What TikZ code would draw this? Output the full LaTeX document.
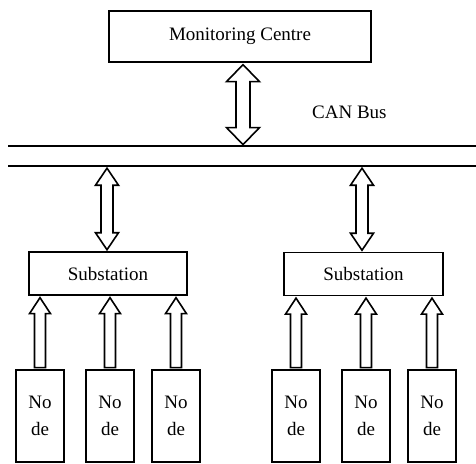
\documentclass[tikz,border=0pt]{standalone}
\usepackage{fontspec}
\setmainfont{Liberation Serif}
\usetikzlibrary{calc}

% hollow double-headed arrow: #1 top tip, #2 bottom tip,
% #3 shaft half width, #4 head half width, #5 head length
\newcommand\hollowdbl[5]{%
  \draw[arr] (#1) -- ($(#1)+(#4,#5)$) -- ($(#1)+(#3,#5)$)
    -- ($(#2)+(#3,-#5)$) -- ($(#2)+(#4,-#5)$) -- (#2)
    -- ($(#2)+(-#4,-#5)$) -- ($(#2)+(-#3,-#5)$)
    -- ($(#1)+(-#3,#5)$) -- ($(#1)+(-#4,#5)$) -- cycle;}

% hollow single arrow pointing up: #1 tip, #2 middle of the flat base
\newcommand\hollowup[5]{%
  \draw[arr] (#1) -- ($(#1)+(#4,#5)$) -- ($(#1)+(#3,#5)$)
    -- ($(#2)+(#3,0)$) -- ($(#2)+(-#3,0)$)
    -- ($(#1)+(-#3,#5)$) -- ($(#1)+(-#4,#5)$) -- cycle;}

\begin{document}
\begin{tikzpicture}[x=1pt,y=-1pt,
  box/.style={draw,line width=1.7pt,inner sep=0pt,align=center,
    font=\fontsize{19}{27}\selectfont},
  leaf/.style={box,minimum width=48pt,minimum height=92pt},
  sub/.style={box,minimum width=158pt,minimum height=43pt},
  arr/.style={draw,line width=1.6pt,fill=white,line join=miter},
  busline/.style={line width=2pt},
  lbl/.style={font=\fontsize{19}{27}\selectfont,inner sep=0pt}]
\useasboundingbox (0,0) rectangle (476,463);

% monitoring centre
\node[box,minimum width=262pt,minimum height=51pt] (mc) at (240,36.5) {Monitoring Centre};

% CAN bus: two parallel lines
\coordinate (busUpL) at (8,146);
\coordinate (busUpR) at (477,146);
\coordinate (busLoL) at (8,166);
\coordinate (busLoR) at (477,166);
\draw[busline] (busUpL) -- (busUpR);
\draw[busline] (busLoL) -- (busLoR);
\node[lbl,anchor=base west] (canlbl) at (312,118) {CAN Bus};

% substations
\node[sub] (subL) at (108,273.5) {Substation};
\node[sub,minimum width=159pt] (subR) at (363.5,274) {Substation};

% field nodes
\node[leaf] (nL1) at (40,416) {No\\de};
\node[leaf] (nL2) at (110,416) {No\\de};
\node[leaf] (nL3) at (176,416) {No\\de};
\node[leaf] (nR1) at (296,416) {No\\de};
\node[leaf] (nR2) at (366,416) {No\\de};
\node[leaf] (nR3) at (432,416) {No\\de};

% centre <-> bus
\coordinate (mcTip) at ($(mc.south)+(3,1.8)$);
\coordinate (mcBus) at ($(mcTip |- busUpL)+(0,-1.4)$);
\hollowdbl{mcTip}{mcBus}{7}{16.5}{17}

% bus <-> substations
\coordinate (sLtop) at ($(subL.north |- busLoL)+(-1,2.2)$);
\coordinate (sLbot) at ($(subL.north)+(-1,-1.4)$);
\hollowdbl{sLtop}{sLbot}{6}{11.5}{17}
\coordinate (sRtop) at ($(subR.north |- busLoL)+(-1.5,2.2)$);
\coordinate (sRbot) at ($(subR.north)+(-1.5,-1.4)$);
\hollowdbl{sRtop}{sRbot}{6}{11.5}{17}

% nodes -> substations
\foreach \n/\s in {nL1/subL,nL2/subL,nL3/subL,nR1/subR,nR2/subR,nR3/subR}{
  \coordinate (tip) at ($(\n.north |- \s.south)+(0,1.8)$);
  \coordinate (base) at ($(\n.north)+(0,-1.5)$);
  \hollowup{tip}{base}{5.5}{10.5}{16}
}
\end{tikzpicture}
\end{document}
